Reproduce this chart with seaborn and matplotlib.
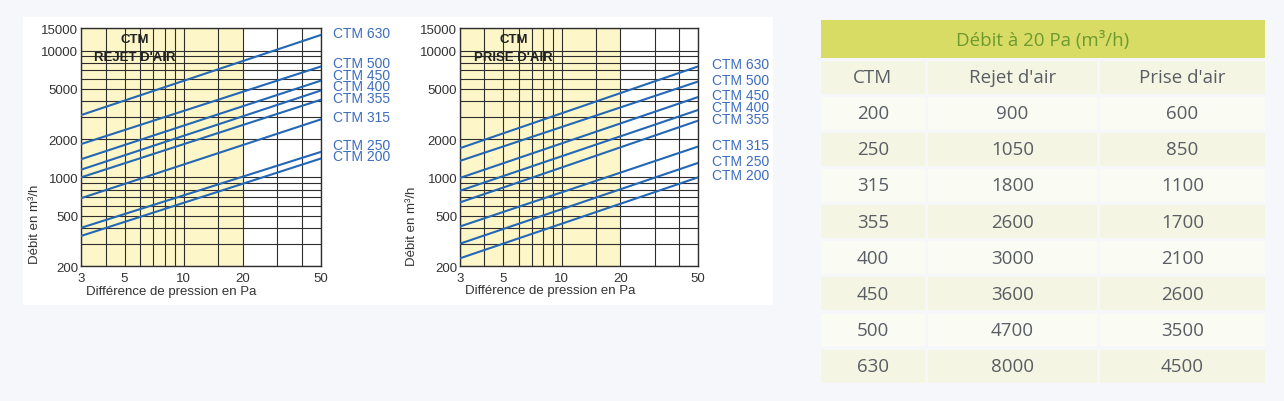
import matplotlib
matplotlib.use("Agg")
import numpy as np
import pandas as pd
import matplotlib.pyplot as plt
import seaborn as sns
from matplotlib.patches import Rectangle

# ---------------- data ----------------
ctm_sizes = ["200", "250", "315", "355", "400", "450", "500", "630"]
dp_ends = [3, 50]                      # Pa, ends of every line
rejet_q_at_3 = [345, 400, 685, 1000, 1150, 1390, 1830, 3100]
rejet_q_at_50 = [1410, 1590, 2870, 4100, 4850, 5800, 7500, 13300]
prise_q_at_3 = [230, 300, 410, 635, 785, 990, 1350, 1700]
prise_q_at_50 = [1000, 1300, 1750, 2800, 3400, 4300, 5700, 7500]

x_tick_values = [3, 5, 10, 20, 50]
x_grid_values = [4, 6, 7, 8, 9, 15, 30, 40]
y_tick_values = [200, 500, 1000, 2000, 5000, 10000, 15000]
y_grid_values = [300, 400, 600, 700, 800, 900, 3000, 4000, 6000, 7000, 8000, 9000]
shaded_range = [3, 20]

table_title = "Débit à 20 Pa (m³/h)"
table_headers = ["CTM", "Rejet d'air", "Prise d'air"]
table_ctm = [200, 250, 315, 355, 400, 450, 500, 630]
table_rejet = [900, 1050, 1800, 2600, 3000, 3600, 4700, 8000]
table_prise = [600, 850, 1100, 1700, 2100, 2600, 3500, 4500]

# ---------------- style ----------------
sns.set_theme(style="white")
plt.rcParams["font.family"] = ["Liberation Sans", "DejaVu Sans"]

W, H = 1284, 402
PAGE = "#f5f7fa"
YELLOW = "#fdf6c8"
GRID = "#2e2e2e"
LINE_BLUE = "#2467b5"
LABEL_BLUE = "#3d6cbf"
TXT = "#333333"

fig = plt.figure(figsize=(W / 100, H / 100), dpi=100, facecolor=PAGE)

bg = fig.add_axes([0, 0, 1, 1], zorder=0)
bg.set_xlim(0, W)
bg.set_ylim(H, 0)
bg.axis("off")
bg.add_patch(Rectangle((23, 18), 750, 287.7, facecolor="white", lw=0))


def px_rect(x0, y0, x1, y1):
    return [x0 / W, 1 - y1 / H, (x1 - x0) / W, (y1 - y0) / H]


def draw_chart(rect, q3, q50, subtitle, label_gap, ylab_xy, xlab_xy):
    ax = fig.add_axes(rect, zorder=2)
    ax.set_facecolor("white")
    ax.set_xscale("log")
    ax.set_yscale("log")
    ax.set_xlim(x_tick_values[0], x_tick_values[-1])
    ax.set_ylim(y_tick_values[0], y_tick_values[-1])

    ax.axvspan(shaded_range[0], shaded_range[1], color=YELLOW, lw=0, zorder=0)

    rows = []
    for c, a, b in zip(ctm_sizes, q3, q50):
        rows.append({"dp": dp_ends[0], "q": a, "ctm": c})
        rows.append({"dp": dp_ends[1], "q": b, "ctm": c})
    df = pd.DataFrame(rows)
    sns.lineplot(data=df, x="dp", y="q", hue="ctm",
                 palette={c: LINE_BLUE for c in ctm_sizes},
                 legend=False, ax=ax, lw=1.5, estimator=None, sort=False,
                 zorder=5)

    ax.set_xticks(x_tick_values, labels=[str(v) for v in x_tick_values])
    ax.set_xticks(x_grid_values, minor=True)
    ax.set_xticklabels([], minor=True)
    ax.set_yticks(y_tick_values, labels=[str(v) for v in y_tick_values])
    ax.set_yticks(y_grid_values, minor=True)
    ax.set_yticklabels([], minor=True)
    ax.set_xlim(x_tick_values[0], x_tick_values[-1])
    ax.set_ylim(y_tick_values[0], y_tick_values[-1])
    ax.set_axisbelow(True)
    ax.grid(True, which="both", color=GRID, lw=0.8)
    ax.tick_params(which="both", length=0, labelsize=9.5, labelcolor=TXT)
    ax.tick_params(axis="x", pad=4)
    ax.tick_params(axis="y", pad=2)
    for s in ax.spines.values():
        s.set_color(GRID)
        s.set_linewidth(1.0)

    ax.set_xlabel("Différence de pression en Pa", fontsize=9.5, color=TXT)
    ax.xaxis.set_label_coords(*xlab_xy)
    ax.xaxis.label.set_va("center")
    ax.set_ylabel("Débit en m³/h", fontsize=9.5, color=TXT)
    ax.yaxis.set_label_coords(*ylab_xy)
    ax.yaxis.label.set_va("center")
    ax.yaxis.label.set_ha("center")

    ax.text(0.225, 0.955, "CTM", transform=ax.transAxes, ha="center",
            va="center", fontsize=9.5, fontweight="bold", color="#222222")
    ax.text(0.225, 0.879, subtitle, transform=ax.transAxes, ha="center",
            va="center", fontsize=9.5, fontweight="bold", color="#222222")

    # series labels at right end, spread so they do not overlap
    prev = -1e9
    for c, b in zip(ctm_sizes, q50):
        yend = ax.transData.transform((dp_ends[1], b))[1]
        ylab = max(yend + 2, prev + 11.5)
        prev = ylab
        ax.annotate(f"CTM {c}", xy=(dp_ends[1], b),
                    xytext=(label_gap, ylab - yend), textcoords="offset pixels",
                    ha="left", va="center", fontsize=10, color=LABEL_BLUE,
                    annotation_clip=False)
    return ax


draw_chart(px_rect(81, 29.3, 321, 267), rejet_q_at_3, rejet_q_at_50,
           "REJET D'AIR", 12, (-0.192, 0.18), (0.377, -0.105))
draw_chart(px_rect(460, 29.3, 698, 267), prise_q_at_3, prise_q_at_50,
           "PRISE D'AIR", 14, (-0.203, 0.17), (0.378, -0.103))

# ---------------- table ----------------
col_x = [821, 928, 1100]
col_w = [104, 169, 165]
TFONT = "Open Sans"
TCOL = "#595d64"
bg.add_patch(Rectangle((821, 21), 444, 38, facecolor="#d8dc64", lw=0))
bg.text(1043, 40.5, table_title, ha="center", va="center", fontsize=13.5,
        color="#6c9a2e", family=TFONT)

head_top, row_h = 61.7, 33.3
for x, w, t in zip(col_x, col_w, table_headers):
    bg.add_patch(Rectangle((x, head_top), w, row_h, facecolor="#f4f6e3", lw=0))
    bg.text(x + w / 2, head_top + row_h / 2, t, ha="center", va="center",
            fontsize=13.5, color=TCOL, family=TFONT)

for i, vals in enumerate(zip(table_ctm, table_rejet, table_prise)):
    top = 97.7 + i * 36.15
    fc = "#fafbf3" if i % 2 == 0 else "#f4f6e3"
    for x, w, v in zip(col_x, col_w, vals):
        bg.add_patch(Rectangle((x, top), w, 32.8, facecolor=fc, lw=0))
        bg.text(x + w / 2, top + 16.4, str(v), ha="center", va="center",
                fontsize=13.5, color=TCOL, family=TFONT)

fig.savefig("out.png", dpi=100, facecolor=PAGE)
